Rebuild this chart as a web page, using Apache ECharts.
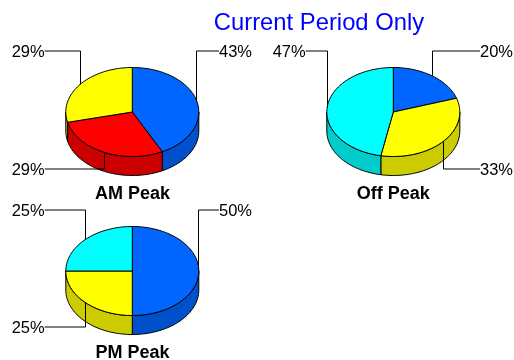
<!DOCTYPE html>
<html>
<head>
<meta charset="utf-8">
<style>
html, body { margin: 0; padding: 0; background: #fff; }
#chart { width: 514px; height: 360px; }
</style>
<script src="https://cdn.jsdelivr.net/npm/echarts@6/dist/echarts.min.js"></script>
</head>
<body>
<div id="chart"></div>
<script>
// values (percent labels, clockwise from 12 o'clock)
var amPeakValues = [43, 29, 29];
var offPeakValues = [20, 33, 47];
var pmPeakValues = [50, 25, 25];

var amPeakColors = ['blue', 'red', 'yellow'];
var offPeakColors = ['blue', 'yellow', 'cyan'];
var pmPeakColors = ['blue', 'yellow', 'cyan'];

var chartTitle = 'Current Period Only';
var pieNames = ['AM Peak', 'Off Peak', 'PM Peak'];

// top face, side face
var palette = {
  blue: ['#0066ff', '#0050cc'],
  red: ['#ff0000', '#cc0000'],
  yellow: ['#ffff00', '#cccc00'],
  cyan: ['#00ffff', '#00cccc']
};

var RX = 66.5, RY = 44.5, DEPTH = 19;
var LABEL_FONT = 16.5;

var pies = [
  {values: amPeakValues, colors: amPeakColors, cx: 132.3, cy: 112, labelUp: -61, labelDown: 57},
  {values: offPeakValues, colors: offPeakColors, cx: 393.3, cy: 112, labelUp: -61, labelDown: 57},
  {values: pmPeakValues, colors: pmPeakColors, cx: 132.3, cy: 271, labelUp: -61, labelDown: 56}
];

function rimPoint(pie, a, drop) {
  return [pie.cx + RX * Math.sin(a), pie.cy - RY * Math.cos(a) + (drop || 0)];
}

function arcPoints(pie, a0, a1, drop) {
  var pts = [];
  var n = Math.max(2, Math.ceil((a1 - a0) / (Math.PI / 90)));
  for (var i = 0; i <= n; i++) {
    pts.push(rimPoint(pie, a0 + (a1 - a0) * i / n, drop));
  }
  return pts;
}

function sliceAngles(values, index) {
  var total = 0, before = 0;
  values.forEach(function (v, i) {
    total += v;
    if (i < index) before += v;
  });
  return [before / total * Math.PI * 2, (before + values[index]) / total * Math.PI * 2];
}

function makeRender(pie) {
  return function (params, api) {
    var angles = sliceAngles(pie.values, params.dataIndex);
    var a0 = angles[0], a1 = angles[1];
    var colors = palette[pie.colors[params.dataIndex]];
    var children = [];

    // side wall, only the front half of the rim shows
    var s0 = Math.max(a0, Math.PI / 2), s1 = Math.min(a1, Math.PI * 1.5);
    if (s1 > s0) {
      var wall = arcPoints(pie, s0, s1, 0).concat(arcPoints(pie, s0, s1, DEPTH).reverse());
      children.push({
        type: 'polygon',
        shape: {points: wall},
        style: {fill: colors[1], stroke: '#000', lineWidth: 1, lineJoin: 'round'},
        z2: 1
      });
    }

    // top face
    var top = [[pie.cx, pie.cy]].concat(arcPoints(pie, a0, a1, 0));
    children.push({
      type: 'polygon',
      shape: {points: top},
      style: {fill: colors[0], stroke: '#000', lineWidth: 1, lineJoin: 'round'},
      z2: 2
    });

    // leader line and label
    var mid = (a0 + a1) / 2;
    var p = rimPoint(pie, mid, 0);
    var right = Math.sin(mid) > 0;
    var x = Math.round(p[0] - 0.5) + 0.5;
    var rowY = pie.cy + (Math.cos(mid) >= 0 ? pie.labelUp : pie.labelDown);
    var labelX = pie.cx + (right ? 86.7 : -87.6);
    children.push({
      type: 'polyline',
      shape: {points: [[x, p[1]], [x, rowY], [labelX, rowY]]},
      style: {fill: null, stroke: '#000', lineWidth: 1},
      z2: 3
    });
    children.push({
      type: 'text',
      style: {
        x: labelX,
        y: rowY + 1,
        text: api.value(0) + '%',
        fill: '#000',
        font: LABEL_FONT + 'px "Liberation Sans", Arial, sans-serif',
        align: right ? 'left' : 'right',
        verticalAlign: 'middle'
      },
      z2: 4
    });

    return {type: 'group', children: children};
  };
}

var chart = echarts.init(document.getElementById('chart'), null, {renderer: 'canvas'});

chart.setOption({
  animation: false,
  backgroundColor: '#fff',
  title: [
    {text: chartTitle, left: 319, top: 11, padding: 0, textAlign: 'center',
      textStyle: {color: '#0000ff', fontSize: 23.8, fontWeight: 'normal', fontFamily: 'Liberation Sans'}},
    {text: pieNames[0], left: 132.5, top: 185, padding: 0, textAlign: 'center',
      textStyle: {color: '#000', fontSize: 18, fontWeight: 'bold', fontFamily: 'Liberation Sans'}},
    {text: pieNames[1], left: 393.3, top: 185, padding: 0, textAlign: 'center',
      textStyle: {color: '#000', fontSize: 18, fontWeight: 'bold', fontFamily: 'Liberation Sans'}},
    {text: pieNames[2], left: 132.5, top: 344, padding: 0, textAlign: 'center',
      textStyle: {color: '#000', fontSize: 18, fontWeight: 'bold', fontFamily: 'Liberation Sans'}}
  ],
  series: pies.map(function (pie, i) {
    return {
      type: 'custom',
      name: pieNames[i],
      coordinateSystem: 'none',
      silent: true,
      renderItem: makeRender(pie),
      data: pie.values
    };
  })
});
</script>
</body>
</html>
